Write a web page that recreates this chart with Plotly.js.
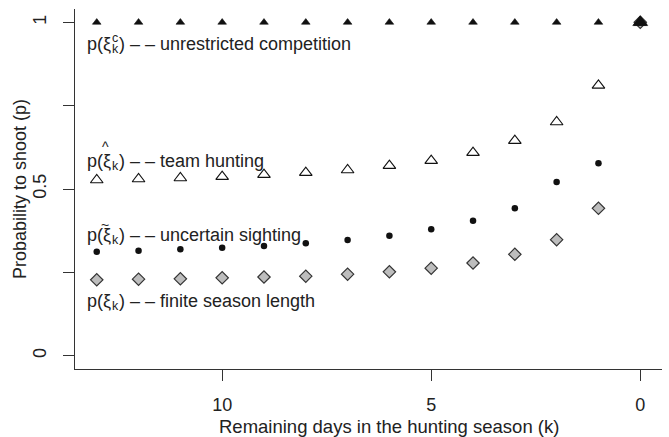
<!DOCTYPE html>
<html><head><meta charset="utf-8">
<script src="https://cdn.plot.ly/plotly-3.0.1.min.js"></script>
<style>html,body{margin:0;padding:0;background:#fff}</style>
</head><body><div id="chart" style="width:669px;height:437px"></div>
<script>
// ---- data ----
const k = [13,12,11,10,9,8,7,6,5,4,3,2,1,0];
const competition = [1,1,1,1,1,1,1,1,1,1,1,1,1,1];
const team = [0.527,0.530,0.533,0.537,0.543,0.549,0.557,0.570,0.585,0.609,0.645,0.701,0.811,1];
const sighting = [0.312,0.315,0.319,0.324,0.329,0.337,0.347,0.360,0.379,0.405,0.442,0.521,0.577,1];
const finite = [0.2275,0.2295,0.2305,0.2335,0.236,0.2385,0.2445,0.2515,0.2625,0.278,0.304,0.348,0.442,1];
const xTicks = [10,5,0];
const xTickText = ["10","5","0"];
const yTicks = [0,0.25,0.5,0.75,1];
const yTickText = ["0","","0.5","","1"];
const labelTail = {
  competition: ") \u2013 \u2013 unrestricted competition",
  team: ") \u2013 \u2013 team hunting",
  sighting: ") \u2013 \u2013 uncertain sighting",
  finite: ") \u2013 \u2013 finite season length"
};
const xTitle = 'Remaining days in the hunting season (k)';
const yTitle = 'Probability to shoot (p)';

const FONT = '"Liberation Sans", Arial, sans-serif';
const FS = 18;
const SFS = 12.5;
const TXT = '#222';
function tw(s, fs){
  const c = document.createElement('canvas').getContext('2d');
  c.font = fs + 'px "Liberation Sans"';
  return c.measureText(s).width;
}

const traces = [
  {x:k, y:finite, mode:'markers', type:'scatter',
   marker:{symbol:'diamond', size:9.5, color:'#bdbdbd', line:{color:'#333', width:1.2}}},
  {x:k, y:sighting, mode:'markers', type:'scatter',
   marker:{symbol:'circle', size:6.5, color:'#111', line:{width:0}}},
  {x:k, y:team, mode:'markers', type:'scatter',
   marker:{symbol:'triangle-up-open', size:11, color:'#111', line:{width:1.1}}},
  {x:k, y:competition, mode:'markers', type:'scatter',
   marker:{symbol:'triangle-up', size:k.map(v => v === 0 ? 13 : 7.5), color:'#111', opacity:1,
           line:{color:'#111', width:0.6}}}
];

const x0 = 10;
const wPp = tw("p(", FS);
const wXi = tw("\u03BE", FS);
const wk = tw("k", SFS);
const ann = [];
function txt(text, y, xs, ys, fs, extra){
  ann.push(Object.assign({xref:'paper', yref:'y', x:0, xshift:xs, y:y, yshift:ys||0, xanchor:'left', yanchor:'middle',
    text:text, showarrow:false, font:{family:FONT, size:fs, color:TXT}}, extra||{}));
}
function formula(y, mark, sup, tail){
  txt("p(\u03BE", y, x0, 0, FS);
  txt("k", y, x0 + wPp + wXi + 0.5, -5, SFS);
  if (sup) txt(sup, y, x0 + wPp + wXi + 0.5, 6, SFS);
  if (mark) txt(mark, y, x0 + wPp + wXi/2, mark === '^' ? 14 : 10, 14, {xanchor:'center'});
  txt(tail, y, x0 + wPp + wXi + wk + 1.5, 0, FS);
}
formula(0.935, null, 'c', labelTail.competition);
formula(0.585, '^', null, labelTail.team);
formula(0.363, '~', null, labelTail.sighting);
formula(0.165, null, null, labelTail.finite);

// axis titles
ann.push({xref:'paper', yref:'paper', x:0.535, y:0, yshift:-57, xanchor:'center', yanchor:'middle',
  text:xTitle, showarrow:false, font:{family:FONT, size:18.5, color:TXT}});
ann.push({xref:'paper', yref:'paper', x:0, xshift:-55, y:0.5, xanchor:'center', yanchor:'middle', textangle:-90,
  text:yTitle, showarrow:false, font:{family:FONT, size:FS, color:TXT}});

const layout = {
  width:669, height:437,
  margin:{l:75, r:7, t:9, b:68, pad:0},
  paper_bgcolor:'#fff', plot_bgcolor:'#fff',
  showlegend:false,
  font:{family:FONT, size:FS, color:TXT},
  xaxis:{range:[13.52,-0.52], showgrid:false, zeroline:false, showline:true, linecolor:'#333', linewidth:1,
    tickmode:'array', tickvals:xTicks, ticktext:xTickText, ticks:'outside', ticklen:11, tickcolor:'#333',
    ticklabelstandoff:8, tickfont:{family:FONT, size:FS, color:TXT}},
  yaxis:{range:[-0.04,1.04], showgrid:false, zeroline:false, showline:true, linecolor:'#333', linewidth:1,
    tickmode:'array', tickvals:yTicks, ticktext:yTickText, ticks:'outside', ticklen:11, tickcolor:'#333',
    tickangle:-90, ticklabelstandoff:10, tickfont:{family:FONT, size:FS, color:TXT}},
  annotations:ann
};
Plotly.newPlot('chart', traces, layout, {staticPlot:true, displayModeBar:false});
</script></body></html>
